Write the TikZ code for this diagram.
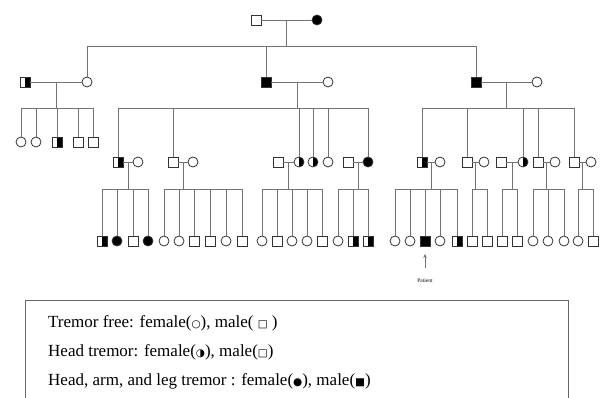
\documentclass[tikz,border=0pt]{standalone}
\usepackage{fontspec}
\setmainfont{Liberation Serif}
\newfontfamily\symfont{DejaVu Sans}
\usetikzlibrary{calc,arrows.meta}
\tikzset{
  sym/.style={draw=black!80, line width=0.8pt, minimum size=10pt, inner sep=0pt, outer sep=0pt},
  sq/.style={sym, rectangle, fill=white},
  ci/.style={sym, circle, fill=white},
  sqf/.style={sym, rectangle, fill=black},
  cif/.style={sym, circle, fill=black},
  halfblk/.style={path picture={\fill[black] (path picture bounding box.north) rectangle (path picture bounding box.south east);}},
  sqh/.style={sq, halfblk},
  cih/.style={ci, halfblk},
  ln/.style={draw=black!55, line width=0.9pt},
  legend/.style={anchor=west, inner sep=0pt, font=\fontsize{17}{19}\selectfont},
}
\newcommand\couple[3]{\draw[ln] (#1.east) -- (#2.west);
  \coordinate (#3) at ($(#1.east)!0.5!(#2.west)$);}
\newcommand\sibs[5]{\draw[ln] (#1) -- (#1 |- #2);
  \draw[ln] (#3.north |- #2) -- (#4.north |- #2);
  \foreach \k in {#5} {\draw[ln] (\k.north |- #2) -- (\k.north);}}
\newcommand\sy[1]{{\symfont\fontsize{10.5}{10.5}\selectfont #1}}
\begin{document}
\begin{tikzpicture}[x=1pt,y=-1pt]
\useasboundingbox (0,0) rectangle (600,398);
% sibship levels
\coordinate (yI) at (0,46);
\coordinate (yII) at (0,108);
\coordinate (yIII) at (0,189);
% Generation I
\node[sq] (I1) at (256,20) {};
\node[cif] (I2) at (317,20) {};
% Generation II
\node[sqh] (II1) at (25,82) {};
\node[ci] (II2) at (87,82) {};
\node[sqf] (II3) at (266,82) {};
\node[ci] (II4) at (328,82) {};
\node[sqf] (II5) at (476,82) {};
\node[ci] (II6) at (537,82) {};
% Generation III (left family)
\node[ci] (L1) at (21,142) {};
\node[ci] (L2) at (36,142) {};
\node[sqh] (L3) at (57,142) {};
\node[sq] (L4) at (78,142) {};
\node[sq] (L5) at (93,142) {};
% Generation III (middle)
\node[sqh] (M1) at (118,162) {};
\node[ci] (M1s) at (138,162) {};
\node[sq] (M2) at (173,162) {};
\node[ci] (M2s) at (193,162) {};
\node[sq] (M3s) at (278,162) {};
\node[cih] (M3) at (299,162) {};
\node[cih] (M4) at (313,162) {};
\node[ci] (M5) at (328,162) {};
\node[sq] (M6s) at (348,162) {};
\node[cif] (M6) at (368,162) {};
% Generation III (right)
\node[sqh] (R1) at (422,162) {};
\node[ci] (R1s) at (440,162) {};
\node[sq] (R2) at (467,162) {};
\node[ci] (R2s) at (484,162) {};
\node[sq] (R3s) at (501,162) {};
\node[cih] (R3) at (523,162) {};
\node[sq] (R4) at (538,162) {};
\node[ci] (R4s) at (555,162) {};
\node[sq] (R5) at (574,162) {};
\node[ci] (R5s) at (591,162) {};
% Generation IV
\node[sqh] (A1) at (102,241) {};
\node[cif] (A2) at (117,241) {};
\node[sq] (A3) at (133,241) {};
\node[cif] (A4) at (148,241) {};
\node[ci] (B1) at (164,241) {};
\node[ci] (B2) at (179,241) {};
\node[sq] (B3) at (194,241) {};
\node[sq] (B4) at (210,241) {};
\node[ci] (B5) at (226,241) {};
\node[sq] (B6) at (242,241) {};
\node[ci] (C1) at (262,241) {};
\node[sq] (C2) at (277,241) {};
\node[ci] (C3) at (292,241) {};
\node[ci] (C4) at (307,241) {};
\node[sq] (C5) at (322,241) {};
\node[ci] (D1) at (338,241) {};
\node[sqh] (D2) at (353,241) {};
\node[sqh] (D3) at (368,241) {};
\node[ci] (E1) at (395,241) {};
\node[ci] (E2) at (410,241) {};
\node[sqf] (E3) at (425,241) {};
\node[ci] (E4) at (440,241) {};
\node[sqh] (E5) at (457,241) {};
\node[sq] (F1) at (472,241) {};
\node[sq] (F2) at (487,241) {};
\node[sq] (G1) at (502,241) {};
\node[sq] (G2) at (517,241) {};
\node[ci] (H1) at (533,241) {};
\node[ci] (H2) at (548,241) {};
\node[ci] (H3) at (564,241) {};
\node[ci] (K1) at (578,241) {};
\node[sq] (K2) at (593,241) {};
% couples and sibships
\couple{I1}{I2}{dI}
\sibs{dI}{yI}{II2}{II5}{II2,II3,II5}
\couple{II1}{II2}{dL}
\sibs{dL}{yII}{L1}{L5}{L1,L2,L3,L4,L5}
\couple{II3}{II4}{dM}
\sibs{dM}{yII}{M1}{M6}{M1,M2,M3,M4,M5,M6}
\couple{II5}{II6}{dR}
\sibs{dR}{yII}{R1}{R5}{R1,R2,R3,R4,R5}
\couple{M1}{M1s}{dA}
\sibs{dA}{yIII}{A1}{A4}{A1,A2,A3,A4}
\couple{M2}{M2s}{dB}
\sibs{dB}{yIII}{B1}{B6}{B1,B2,B3,B4,B5,B6}
\couple{M3s}{M3}{dC}
\sibs{dC}{yIII}{C1}{C5}{C1,C2,C3,C4,C5}
\couple{M6s}{M6}{dD}
\sibs{dD}{yIII}{D1}{D3}{D1,D2,D3}
\couple{R1}{R1s}{dE}
\sibs{dE}{yIII}{E1}{E5}{E1,E2,E3,E4,E5}
\couple{R2}{R2s}{dF}
\sibs{dF}{yIII}{F1}{F2}{F1,F2}
\couple{R3s}{R3}{dG}
\sibs{dG}{yIII}{G1}{G2}{G1,G2}
\couple{R4}{R4s}{dH}
\sibs{dH}{yIII}{H1}{H3}{H1,H2,H3}
\couple{R5}{R5s}{dK}
\sibs{dK}{yIII}{K1}{K2}{K1,K2}
% patient
\coordinate (pt) at (425,268);
\draw[ln, -{Stealth[length=4pt,width=3.5pt]}] (pt) -- ($(E3.south)+(0,8)$);
\node[font=\fontsize{5.5}{6}\selectfont] (patient) at (425,281) {Patient};
% legend
\draw[draw=black!60, line width=0.8pt] (25,300) rectangle (568,420);
\node[legend] (lg1) at (48,323) {Tremor free: female(\sy{○}), male( \sy{□} )};
\node[legend] (lg2) at (48,352) {Head tremor: female(\sy{◑}), male(\sy{□})};
\node[legend] (lg3) at (48,381) {Head, arm, and leg tremor : female(\sy{●}), male(\sy{■})};
\end{tikzpicture}
\end{document}
